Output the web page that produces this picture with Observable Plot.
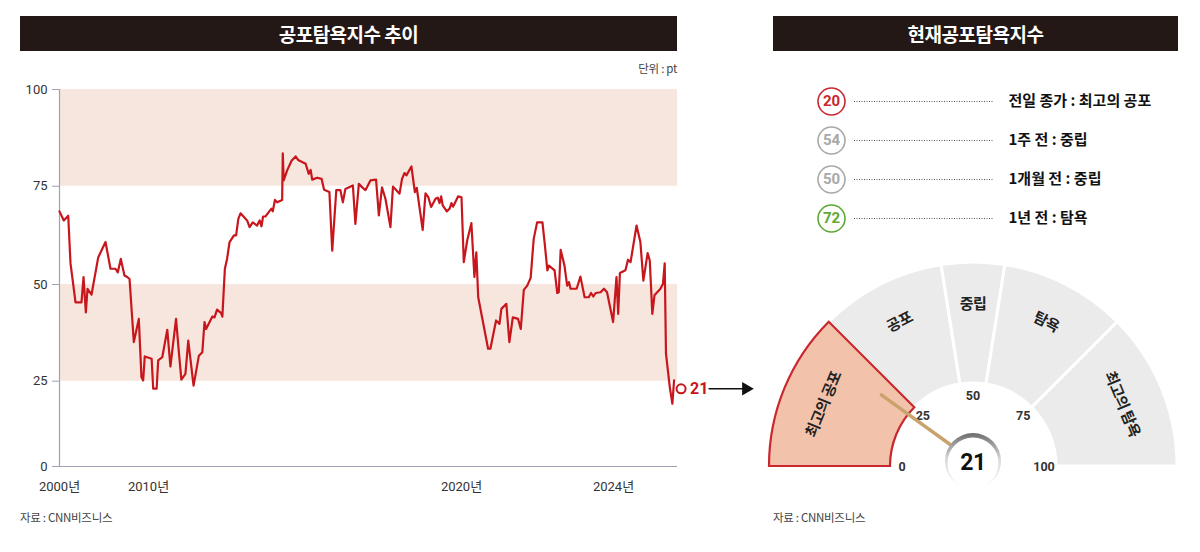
<!DOCTYPE html>
<html><head><meta charset="utf-8">
<script src="https://cdn.jsdelivr.net/npm/d3@7"></script>
<script src="https://cdn.jsdelivr.net/npm/@observablehq/plot@0.6"></script>
<style>
body{margin:0;background:#fff;}
#root{position:relative;width:1200px;height:552px;overflow:hidden;background:#fff;}
.bar{position:absolute;top:16px;height:35px;background:#231815;color:#fff;font:700 19px "Noto Sans CJK KR",sans-serif;text-align:center;line-height:35px;letter-spacing:-0.5px}
.note{position:absolute;font:400 11.5px "Noto Sans CJK KR",sans-serif;color:#444;letter-spacing:-0.3px;white-space:nowrap}
.abs{position:absolute}
</style></head><body>
<div id="root">
  <div class="bar" style="left:20px;width:657px">공포탐욕지수 추이</div>
  <div class="bar" style="left:773px;width:405px">현재공포탐욕지수</div>
  <div class="note" style="right:523px;top:60px">단위 : pt</div>
  <div class="abs" id="left" style="left:0;top:60px"></div>
  <div class="abs" id="legend" style="left:760px;top:80px"></div>
  <div class="abs" id="gauge" style="left:760px;top:250px"></div>
  <div class="note" style="left:20px;top:509px">자료 : CNN비즈니스</div>
  <div class="note" style="left:773px;top:509px">자료 : CNN비즈니스</div>
</div>
<script>
// ---------- data ----------
const years = [2000.00,2000.48,2000.98,2001.24,2001.80,2002.47,2002.70,2002.96,2003.15,2003.60,
2004.35,2005.17,2005.73,2006.29,2006.55,2006.89,2007.30,2007.61,2007.87,2008.35,
2008.91,2009.21,2009.40,2009.58,2010.10,2010.15,2010.26,2010.31,2010.44,2010.60,
2010.70,2010.88,2010.97,2011.05,2011.18,2011.27,2011.44,2011.61,2011.72,2011.79,
2011.84,2012.04,2012.11,2012.19,2012.32,2012.36,2012.44,2012.51,2012.59,2012.73,
2012.80,2012.87,2012.94,2013.15,2013.23,2013.33,2013.47,2013.55,2013.61,2013.66,
2013.74,2013.84,2013.93,2013.97,2014.04,2014.11,2014.27,2014.29,2014.32,2014.43,
2014.57,2014.70,2014.78,2015.02,2015.12,2015.18,2015.23,2015.39,2015.53,2015.61,
2015.78,2015.87,2016.00,2016.13,2016.21,2016.29,2016.53,2016.61,2016.72,2016.83,
2016.93,2017.09,2017.27,2017.36,2017.46,2017.57,2017.73,2017.81,2018.02,2018.10,
2018.18,2018.24,2018.40,2018.51,2018.57,2018.76,2018.85,2018.94,2019.03,2019.17,
2019.24,2019.30,2019.35,2019.40,2019.53,2019.62,2019.68,2019.73,2019.89,2020.00,
2020.06,2020.15,2020.26,2020.34,2020.39,2020.44,2020.70,2020.76,2020.91,2021.00,
2021.05,2021.18,2021.26,2021.35,2021.49,2021.56,2021.64,2021.73,2021.82,2021.90,
2021.99,2022.13,2022.19,2022.26,2022.30,2022.45,2022.52,2022.56,2022.61,2022.71,
2022.78,2022.83,2022.87,2023.03,2023.13,2023.24,2023.35,2023.41,2023.47,2023.53,
2023.66,2023.75,2023.83,2023.99,2024.07,2024.11,2024.15,2024.28,2024.34,2024.40,
2024.54,2024.63,2024.70,2024.80,2024.85,2024.91,2024.96,2025.10,2025.16,2025.20,
2025.23,2025.32,2025.38,2025.42];
const values = [68.6,66.3,67.5,55.3,45.4,45.4,51.9,42.8,48.9,47.4,
56.9,60.8,54.0,54.0,53.1,56.5,52.3,51.9,51.4,35.1,
41.1,26.0,25.2,31.4,30.8,22.8,22.8,30.4,31.2,38.3,
28.8,41.1,32.5,25.4,26.9,35.5,23.7,31.6,32.5,40.3,
38.5,41.7,41.5,43.5,42.6,41.7,54.0,56.5,60.8,62.5,
62.5,66.7,68.1,66.3,64.6,65.8,65.0,66.3,64.8,67.3,
67.3,68.4,69.3,68.6,71.5,70.9,71.5,83.5,76.5,79.1,
81.6,82.7,81.8,80.8,78.2,79.2,76.7,77.2,76.9,74.1,
73.5,58.6,74.0,74.0,70.9,74.3,75.2,65.4,75.6,74.7,
74.0,76.5,76.7,67.6,74.7,71.8,64.6,74.9,73.1,76.9,
78.4,77.8,80.1,73.5,74.6,63.9,73.2,72.2,69.7,71.8,
72.1,70.7,72.4,70.1,68.6,69.3,70.7,69.8,72.4,72.2,
55.7,61.2,65.6,51.9,58.2,46.7,33.4,33.4,40.7,39.8,
43.7,45.0,35.1,41.5,41.1,38.5,48.6,49.7,51.7,61.6,
65.8,65.8,60.4,53.6,54.8,53.6,47.8,48.0,58.8,54.8,
49.7,50.6,48.9,48.9,52.0,46.7,46.7,47.8,46.9,47.8,
48.0,48.9,48.0,40.3,51.9,42.4,52.9,53.6,56.3,55.7,
65.0,60.8,51.0,58.0,56.1,42.4,47.2,48.9,50.2,55.4,
32.1,23.2,18.4,25.2];

const xTickYears = [2000, 2010, 2020, 2024];
const yTicks = [0, 25, 50, 75, 100];
const bandLow = [25, 75];
const bandHigh = [50, 100];

const currentIndex = 21;

const historyPeriods = ["전일 종가", "1주 전", "1개월 전", "1년 전"];
const historyValues = [20, 54, 50, 72];
const historyStatus = ["최고의 공포", "중립", "중립", "탐욕"];

const zoneNames = ["최고의 공포", "공포", "중립", "탐욕", "최고의 탐욕"];
const zoneLow = [0, 25, 45, 55, 75];
const zoneHigh = [25, 45, 55, 75, 100];
const gaugeTicks = [0, 25, 50, 75, 100];

// ---------- styles ----------
const RED = "#c8161d";
const AXIS = "#a39fb2";
const FONT_NUM = 'Roboto, "Noto Sans CJK KR", sans-serif';
const FONT_KR = '"Noto Sans CJK KR", sans-serif';

// the original chart's axes are drawn piecewise (uneven spacing)
const xDomain = [2000, 2010, 2020, 2024, 2025.5];
const xRange = [59, 148, 461, 613, 677];
const yRange = [406, 320.7, 224, 125.7, 29];
const pointerEndYear = 2027.2; // annotation arrow end

const series = years.map((y, i) => ({year: y, value: values[i]}));
const bands = bandLow.map((lo, i) => ({lo, hi: bandHigh[i]}));
const marker = [{year: years[years.length - 1], value: currentIndex}];

const left = Plot.plot({
  width: 770, height: 450,
  marginTop: 29, marginBottom: 44, marginLeft: 59, marginRight: 93,
  x: {type: "linear", domain: xDomain, range: xRange, axis: null, label: null},
  y: {type: "linear", domain: yTicks, range: yRange, axis: null, label: null},
  style: {fontFamily: FONT_NUM, background: "transparent", overflow: "visible", color: "#333"},
  marks: [
    Plot.rect(bands, {y1: "lo", y2: "hi", fill: "#f7e6dd"}),
    Plot.axisY({ticks: yTicks, tickSize: 7, tickPadding: 5, fontSize: 13, stroke: AXIS, fill: "#333", label: null}),
    Plot.axisX({ticks: xTickYears, tickFormat: d => `${d}년`, tickSize: 0, tickPadding: 15, fontSize: 13, fill: "#333", label: null}),
    Plot.ruleX([xDomain[0]], {stroke: AXIS, strokeWidth: 1.2}),
    Plot.ruleY([0], {stroke: AXIS, strokeWidth: 1.2}),
    Plot.line(series, {x: "year", y: "value", stroke: RED, strokeWidth: 2.2, strokeLinejoin: "round"}),
    Plot.dot(marker, {x: "year", y: "value", r: 4.5, stroke: RED, strokeWidth: 2, fill: "white", dx: 7, dy: -6}),
    Plot.text(marker, {x: "year", y: "value", text: d => String(d.value), dx: 16, dy: -6, textAnchor: "start", fill: RED, fontWeight: 700, fontSize: 16, letterSpacing: -0.5}),
    Plot.arrow(marker, {x1: "year", y1: "value", x2: () => pointerEndYear, y2: "value", bend: 0, insetStart: 35, insetEnd: 5, headLength: 0, stroke: "#111", strokeWidth: 1.5, dy: -6}),
    Plot.dot(marker, {x: () => pointerEndYear, y: "value", symbol: "triangle", rotate: 90, r: 5, fill: "#111", dx: -4, dy: -6})
  ]
});
document.getElementById("left").append(left);

// ---------- legend (history) ----------
const history = historyPeriods.map((p, i) => ({period: p, value: historyValues[i], status: historyStatus[i]}));
const legend = Plot.plot({
  width: 440, height: 160,
  marginTop: 0, marginBottom: 0, marginLeft: 94, marginRight: 207,
  y: {type: "point", domain: historyPeriods, range: [20, 138.5], padding: 0, axis: null},
  color: {domain: ["최고의 공포", "중립", "탐욕"], range: ["#c8282e", "#a8a8a8", "#5fa834"]},
  style: {fontFamily: FONT_KR, background: "transparent", overflow: "visible"},
  marks: [
    Plot.ruleY(history, {y: "period", stroke: "#555", strokeWidth: 1, strokeDasharray: "1 1.5"}),
    Plot.dot(history, {y: "period", frameAnchor: "left", dx: -23, r: 13.5, stroke: "status", strokeWidth: 1.6, fill: "white"}),
    Plot.text(history, {y: "period", frameAnchor: "left", dx: -23, textAnchor: "middle", text: d => String(d.value), fill: "status", fontWeight: 700, fontSize: 15, fontFamily: FONT_NUM, letterSpacing: -0.8}),
    Plot.text(history, {y: "period", frameAnchor: "right", dx: 15, textAnchor: "start", text: d => `${d.period} : ${d.status}`, fill: "#111", fontWeight: 700, fontSize: 15, letterSpacing: -1.6})
  ]
});
document.getElementById("legend").append(legend);

// ---------- gauge ----------
const zones = zoneNames.map((name, i) => ({name, lo: zoneLow[i], hi: zoneHigh[i]}));
const gauge = Plot.plot({
  width: 440, height: 250,
  marginTop: 0, marginBottom: 34, marginLeft: 0, marginRight: 14,
  x: {type: "linear", domain: [0, 100], range: [-90, 90], axis: null, label: null},
  style: {fontFamily: FONT_KR, background: "transparent", overflow: "visible"},
  marks: [
    Plot.dot(gaugeTicks, {x: d => d, r: 1, fillOpacity: 0, strokeOpacity: 0}),
    (index, scales, values, dims) => {
      const deg = v => scales.x(v);
      const rad = v => deg(v) * Math.PI / 180;
      const cx = dims.marginLeft + (dims.width - dims.marginLeft - dims.marginRight) / 2;
      const cy = dims.height - dims.marginBottom;
      const polar = (v, r) => [r * Math.sin(rad(v)), -r * Math.cos(rad(v))];
      const g = d3.create("svg:g").attr("transform", `translate(${cx},${cy})`);
      const defs = g.append("defs");
      const grad = defs.append("linearGradient").attr("id", "ringGrad").attr("x1", 0).attr("y1", 0).attr("x2", 0).attr("y2", 1);
      grad.append("stop").attr("offset", "0%").attr("stop-color", "#6d6d6d");
      grad.append("stop").attr("offset", "45%").attr("stop-color", "#d6d6d6");
      grad.append("stop").attr("offset", "100%").attr("stop-color", "#ffffff");
      const arc = d3.arc().innerRadius(83).outerRadius(204);
      const active = zones.find(z => currentIndex >= z.lo && currentIndex < z.hi);
      const ordered = zones.filter(z => z !== active).concat([active]);
      g.selectAll("path.zone").data(ordered).join("path")
        .attr("d", z => arc({startAngle: rad(z.lo), endAngle: rad(z.hi)}))
        .attr("fill", z => z === active ? "#f3c2ab" : "#ebebeb")
        .attr("stroke", z => z === active ? "#c8282e" : "#ffffff")
        .attr("stroke-width", z => z === active ? 2.2 : 3)
        .attr("stroke-linejoin", "miter");
      g.selectAll("text.zl").data(zones).join("text")
        .attr("transform", z => {
          const m = (z.lo + z.hi) / 2;
          const [x, y] = polar(m, 162);
          return `translate(${x},${y}) rotate(${deg(m)})`;
        })
        .attr("text-anchor", "middle").attr("dy", "0.36em")
        .attr("font-size", 15).attr("font-weight", 700).attr("fill", "#222")
        .attr("letter-spacing", "-0.5")
        .text(z => z.name);
      g.selectAll("text.tk").data(gaugeTicks).join("text")
        .attr("x", v => polar(v, 71)[0]).attr("y", v => polar(v, 71)[1])
        .attr("text-anchor", "middle").attr("dy", "0.36em")
        .attr("font-family", FONT_NUM).attr("font-size", 12.5).attr("font-weight", 700)
        .attr("fill", "#333").text(v => String(v));
      const tip = polar(currentIndex, 116);
      g.append("line").attr("x1", 0).attr("y1", -5).attr("x2", tip[0]).attr("y2", tip[1])
        .attr("stroke", "#c9a26c").attr("stroke-width", 3.5).attr("stroke-linecap", "round");
      g.append("circle").attr("cx", 0).attr("cy", -5).attr("r", 28).attr("fill", "url(#ringGrad)");
      g.append("circle").attr("cx", 0).attr("cy", -3).attr("r", 25.5).attr("fill", "#ffffff");
      g.append("text").attr("x", 0).attr("y", -4).attr("dy", "0.36em").attr("text-anchor", "middle")
        .attr("font-family", FONT_NUM).attr("font-size", 23).attr("font-weight", 700)
        .attr("letter-spacing", "-0.5").attr("fill", "#111").text(String(currentIndex));
      return g.node();
    }
  ]
});
document.getElementById("gauge").append(gauge);
</script>
</body></html>
